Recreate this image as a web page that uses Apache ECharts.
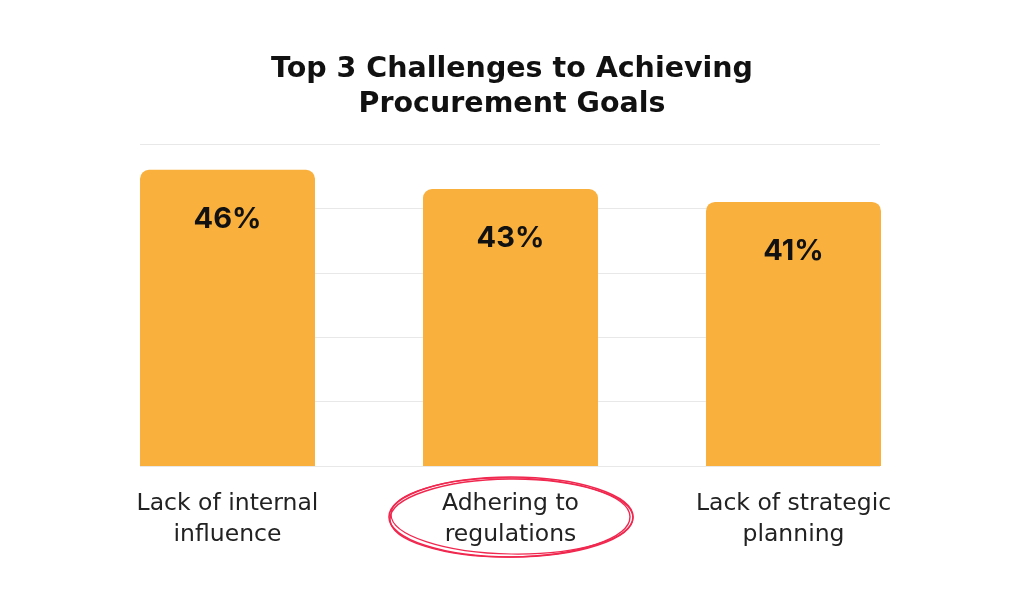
<!DOCTYPE html>
<html><head><meta charset="utf-8">
<script src="https://cdn.jsdelivr.net/npm/echarts@6/dist/echarts.min.js"></script>
<style>html,body{margin:0;padding:0;background:#fff}#c{width:1024px;height:597px}</style>
</head><body><div id="c"></div>
<script>
const categories = ['Lack of internal\ninfluence', 'Adhering to\nregulations', 'Lack of strategic\nplanning'];
const values = [46, 43, 41];
const titleText = 'Top 3 Challenges to Achieving\nProcurement Goals';

const chart = echarts.init(document.getElementById('c'));
const gridTop = 144, gridBottom = 597 - 466;
chart.setOption({
  backgroundColor: '#ffffff',
  animation: false,
  title: {
    text: titleText, left: 'center', top: 47,
    textStyle: { fontFamily: 'DejaVu Sans', fontWeight: 'bold', fontSize: 28.5, lineHeight: 35, color: '#111111' }
  },
  grid: [
    { left: 86, right: 1024 - 935, top: gridTop, bottom: gridBottom },
    { left: 140, right: 1024 - 880, top: gridTop, bottom: gridBottom }
  ],
  xAxis: [
    { type: 'category', data: categories, gridIndex: 0,
      axisLine: { show: false }, axisTick: { show: false },
      axisLabel: { margin: 22, fontFamily: 'DejaVu Sans', fontSize: 23.5, lineHeight: 31, color: '#222222' } },
    { type: 'value', gridIndex: 1, show: false }
  ],
  yAxis: [
    { type: 'value', gridIndex: 0, min: 0, max: 50, interval: 10, show: false, splitLine: { show: false } },
    { type: 'value', gridIndex: 1, min: 0, max: 50, interval: 10,
      axisLine: { show: false }, axisTick: { show: false }, axisLabel: { show: false },
      splitLine: { show: true, lineStyle: { color: '#e8e8e8', width: 1 } } }
  ],
  series: [{
    type: 'bar', data: values, xAxisIndex: 0, yAxisIndex: 0, z: 5,
    barWidth: 175,
    itemStyle: { color: '#F9B03D', borderRadius: [9, 9, 0, 0] },
    label: { show: true, position: 'insideTop', distance: 35, formatter: '{c}%',
      fontFamily: 'Inter', fontWeight: 'bold', fontSize: 29, color: '#111111' }
  }],
  graphic: [
    { type: 'ellipse', shape: { cx: 511, cy: 517, rx: 122, ry: 40 }, style: { fill: null, stroke: '#F0284F', lineWidth: 1.6 }, z: 10 },
    { type: 'ellipse', shape: { cx: 510, cy: 518, rx: 120, ry: 39 }, rotation: 0.01, originX: 510, originY: 518, style: { fill: null, stroke: '#F0284F', lineWidth: 1.4 }, z: 10 },
    { type: 'ellipse', shape: { cx: 512, cy: 516, rx: 121, ry: 38 }, rotation: -0.015, originX: 512, originY: 516, style: { fill: null, stroke: '#F0284F', lineWidth: 1.2 }, z: 10 }
  ]
});
</script></body></html>
